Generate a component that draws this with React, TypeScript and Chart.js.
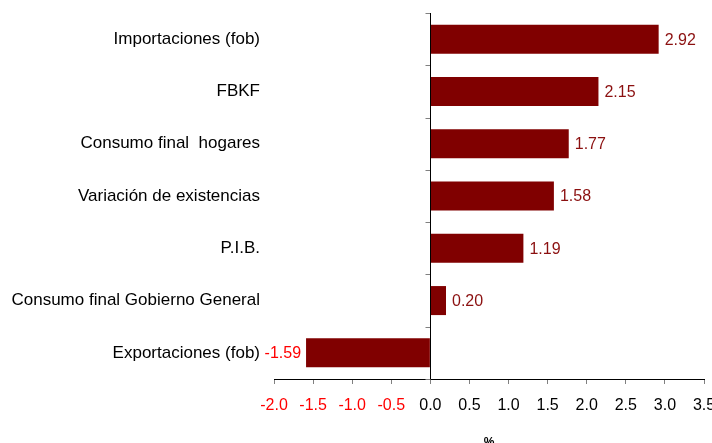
import React, { useEffect, useRef } from "react";
import { Chart, registerables } from "chart.js";

Chart.register(...registerables);

const categories = [
  "Importaciones (fob)",
  "FBKF",
  "Consumo final  hogares",
  "Variación de existencias",
  "P.I.B.",
  "Consumo final Gobierno General",
  "Exportaciones (fob)",
];
const values = [2.92, 2.15, 1.77, 1.58, 1.19, 0.2, -1.59];
const xMin = -2.0;
const xMax = 3.5;
const xStep = 0.5;
const axisTitle = "%";

const FONT = "'Liberation Sans', Arial, sans-serif";
const BAR = "#800000";

const valueLabels = {
  id: "valueLabels",
  afterDatasetsDraw(chart: any) {
    const ctx = chart.ctx;
    const meta = chart.getDatasetMeta(0);
    ctx.save();
    ctx.font = `16px ${FONT}`;
    ctx.textBaseline = "middle";
    meta.data.forEach((bar: any, i: number) => {
      const v = values[i];
      const txt = v.toFixed(2);
      if (v >= 0) {
        ctx.fillStyle = "#8B1010";
        ctx.textAlign = "left";
        ctx.fillText(txt, bar.x + 6, bar.y + 1);
      } else {
        ctx.fillStyle = "#FF0000";
        ctx.textAlign = "right";
        ctx.fillText(txt, bar.x - 5, bar.y + 1);
      }
    });
    ctx.restore();
  },
};

const zeroAxis = {
  id: "zeroAxis",
  afterDatasetsDraw(chart: any) {
    const ctx = chart.ctx;
    const { top, bottom } = chart.chartArea;
    const x0 = Math.round(chart.scales.x.getPixelForValue(0)) + 0.5;
    const n = categories.length;
    ctx.save();
    ctx.strokeStyle = "#808080";
    ctx.lineWidth = 1;
    for (let i = 0; i <= n; i++) {
      const y = Math.round(top + ((bottom - top) * i) / n) + 0.5;
      ctx.beginPath();
      ctx.moveTo(x0 - 5, y);
      ctx.lineTo(x0, y);
      ctx.stroke();
    }
    ctx.strokeStyle = "#000000";
    ctx.beginPath();
    ctx.moveTo(x0, top);
    ctx.lineTo(x0, bottom);
    ctx.stroke();
    ctx.restore();
  },
};

export default function App() {
  const ref = useRef<HTMLCanvasElement>(null);
  useEffect(() => {
    const chart = new Chart(ref.current!, {
      type: "bar",
      data: {
        labels: categories,
        datasets: [
          {
            data: values,
            backgroundColor: BAR,
            borderColor: BAR,
            borderWidth: 0,
            barPercentage: 0.555,
            categoryPercentage: 1,
          },
        ],
      },
      options: {
        indexAxis: "y",
        animation: false,
        responsive: false,
        maintainAspectRatio: false,
        layout: { padding: { left: 0, right: 8, top: 13, bottom: 0 } },
        plugins: { legend: { display: false }, tooltip: { enabled: false } },
        scales: {
          x: {
            type: "linear",
            min: xMin,
            max: xMax,
            ticks: {
              stepSize: xStep,
              maxRotation: 0,
              autoSkip: false,
              padding: 12,
              font: { family: FONT, size: 16 },
              color: (c: any) => (c.tick && c.tick.value < 0 ? "#FF0000" : "#000000"),
              callback: (v: any) => Number(v).toFixed(1),
            },
            grid: {
              display: true,
              drawOnChartArea: false,
              drawTicks: true,
              tickLength: 5,
              color: "#808080",
            },
            border: { display: true, color: "#000000" },
            title: {
              display: true,
              text: axisTitle,
              font: { family: FONT, size: 12, weight: "bold" },
              color: "#000000",
              padding: { top: 0, bottom: -7 },
            },
            afterFit: (axis: any) => {
              axis.height = 64;
              axis.paddingLeft = 0;
              axis.paddingRight = 0;
            },
          },
          y: {
            type: "category",
            ticks: {
              padding: 14,
              font: { family: FONT, size: 17 },
              color: "#000000",
            },
            grid: { display: false, drawTicks: false },
            border: { display: false },
            afterFit: (axis: any) => {
              axis.width = 274;
              axis.paddingTop = 0;
              axis.paddingBottom = 0;
            },
          },
        },
      },
      plugins: [zeroAxis, valueLabels],
    } as any);
    return () => chart.destroy();
  }, []);
  return (
    <div style={{ position: "fixed", left: 0, top: 0, width: 712, height: 443, background: "#fff" }}>
      <canvas ref={ref} width={712} height={443} style={{ width: 712, height: 443 }} />
    </div>
  );
}
